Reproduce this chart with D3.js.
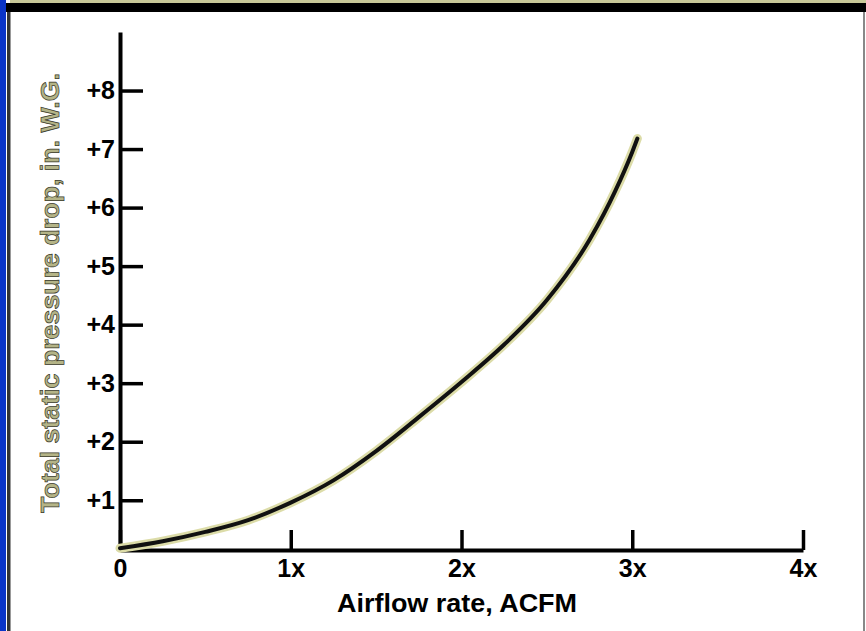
<!DOCTYPE html>
<html lang="en">
<head>
	<meta charset="UTF-8">
	<title>Pressure drop vs airflow</title>
	<script src="https://cdn.jsdelivr.net/npm/d3@7"></script>
	<style>
		html, body { margin: 0; padding: 0; background: #fff; }
		svg { display: block; }
		.lbl { font-family: "Liberation Sans", Arial, sans-serif; font-weight: bold; fill: #000; }
	</style>
</head>
<body>
	<div id="vis"></div>

	<script>
		var width = 866;
		var height = 631;

		// curve: airflow (multiples of x) vs pressure drop (in. W.G.)
		var airflow  = [0, 0.25, 0.5, 0.75, 1.0, 1.25, 1.5, 1.75, 2.0, 2.25, 2.5, 2.75, 2.9, 3.0, 3.03];
		var pressure = [0.18, 0.30, 0.46, 0.66, 0.96, 1.34, 1.84, 2.42, 3.02, 3.66, 4.42, 5.45, 6.28, 6.95, 7.18];

		var xTicks = [0, 1, 2, 3, 4];
		var xTickLabels = ["0", "1x", "2x", "3x", "4x"];
		var yTicks = [1, 2, 3, 4, 5, 6, 7, 8];

		var svg = d3.select("#vis").append("svg")
				.attr("width", width)
				.attr("height", height);

		// page frame: blue strip, khaki + black top bands, side rules
		svg.append("rect").attr("x", 0).attr("y", 0).attr("width", 6).attr("height", height).attr("fill", "#0a34c8");
		svg.append("rect").attr("x", 10).attr("y", 0).attr("width", width - 10).attr("height", 3).attr("fill", "#c9c999");
		svg.append("rect").attr("x", 6).attr("y", 3).attr("width", width - 6).attr("height", 9).attr("fill", "#000");
		svg.append("rect").attr("x", 7).attr("y", 12).attr("width", 3).attr("height", height - 12).attr("fill", "#333");
		svg.append("rect").attr("x", 10).attr("y", 12).attr("width", 1).attr("height", height - 12).attr("fill", "#999");
		svg.append("rect").attr("x", 863).attr("y", 12).attr("width", 2).attr("height", height - 12).attr("fill", "#888");

		var x = d3.scaleLinear().domain([0, 4]).range([120, 803]);
		var y = d3.scaleLinear().domain([0.15, 9]).range([550, 32]);

		// y axis, ticks pointing inward
		var yAxis = d3.axisLeft(y)
				.tickValues(yTicks)
				.tickFormat(function(d) { return "+" + d; })
				.tickSize(-23)
				.tickSizeOuter(0)
				.tickPadding(5);

		var gy = svg.append("g").attr("transform", "translate(" + x(0) + ",0)").call(yAxis);
		gy.select(".domain").attr("stroke", "#000").attr("stroke-width", 4);
		gy.selectAll(".tick line").attr("stroke", "#000").attr("stroke-width", 3.5);
		gy.selectAll(".tick text").attr("class", "lbl").style("font-size", "25px").attr("fill", "#000");

		// x axis, ticks pointing up
		var xAxis = d3.axisBottom(x)
				.tickValues(xTicks)
				.tickFormat(function(d, i) { return xTickLabels[i]; })
				.tickSize(-20)
				.tickSizeOuter(0)
				.tickPadding(9);

		var gx = svg.append("g").attr("transform", "translate(0," + y(0.15) + ")").call(xAxis);
		gx.select(".domain").attr("stroke", "#000").attr("stroke-width", 4);
		gx.selectAll(".tick line").attr("stroke", "#000").attr("stroke-width", 3.5);
		gx.selectAll(".tick text").attr("class", "lbl").style("font-size", "25px").attr("fill", "#000");

		// the curve: khaki halo under a black line
		var pts = airflow.map(function(a, i) { return [a, pressure[i]]; });
		var line = d3.line()
				.x(function(d) { return x(d[0]); })
				.y(function(d) { return y(d[1]); })
				.curve(d3.curveMonotoneX);

		svg.append("path").datum(pts)
				.attr("d", line)
				.attr("fill", "none")
				.attr("stroke", "#dcdca8")
				.attr("stroke-width", 9)
				.attr("stroke-linecap", "round");
		svg.append("path").datum(pts)
				.attr("d", line)
				.attr("fill", "none")
				.attr("stroke", "#111")
				.attr("stroke-width", 4)
				.attr("stroke-linecap", "round");

		// axis titles
		svg.append("text")
				.attr("class", "lbl")
				.attr("x", 457)
				.attr("y", 612)
				.attr("text-anchor", "middle")
				.attr("textLength", 240)
				.attr("lengthAdjust", "spacingAndGlyphs")
				.style("font-size", "25px")
				.text("Airflow rate, ACFM");

		svg.append("text")
				.attr("class", "lbl")
				.attr("transform", "translate(59,293) rotate(-90)")
				.attr("text-anchor", "middle")
				.attr("textLength", 440)
				.attr("lengthAdjust", "spacingAndGlyphs")
				.attr("stroke", "#3a3a2a")
				.attr("stroke-width", 0.7)
				.style("font-size", "25px")
				.style("fill", "#b4b487")
				.text("Total static pressure drop, in. W.G.");
	</script>
</body>
</html>
